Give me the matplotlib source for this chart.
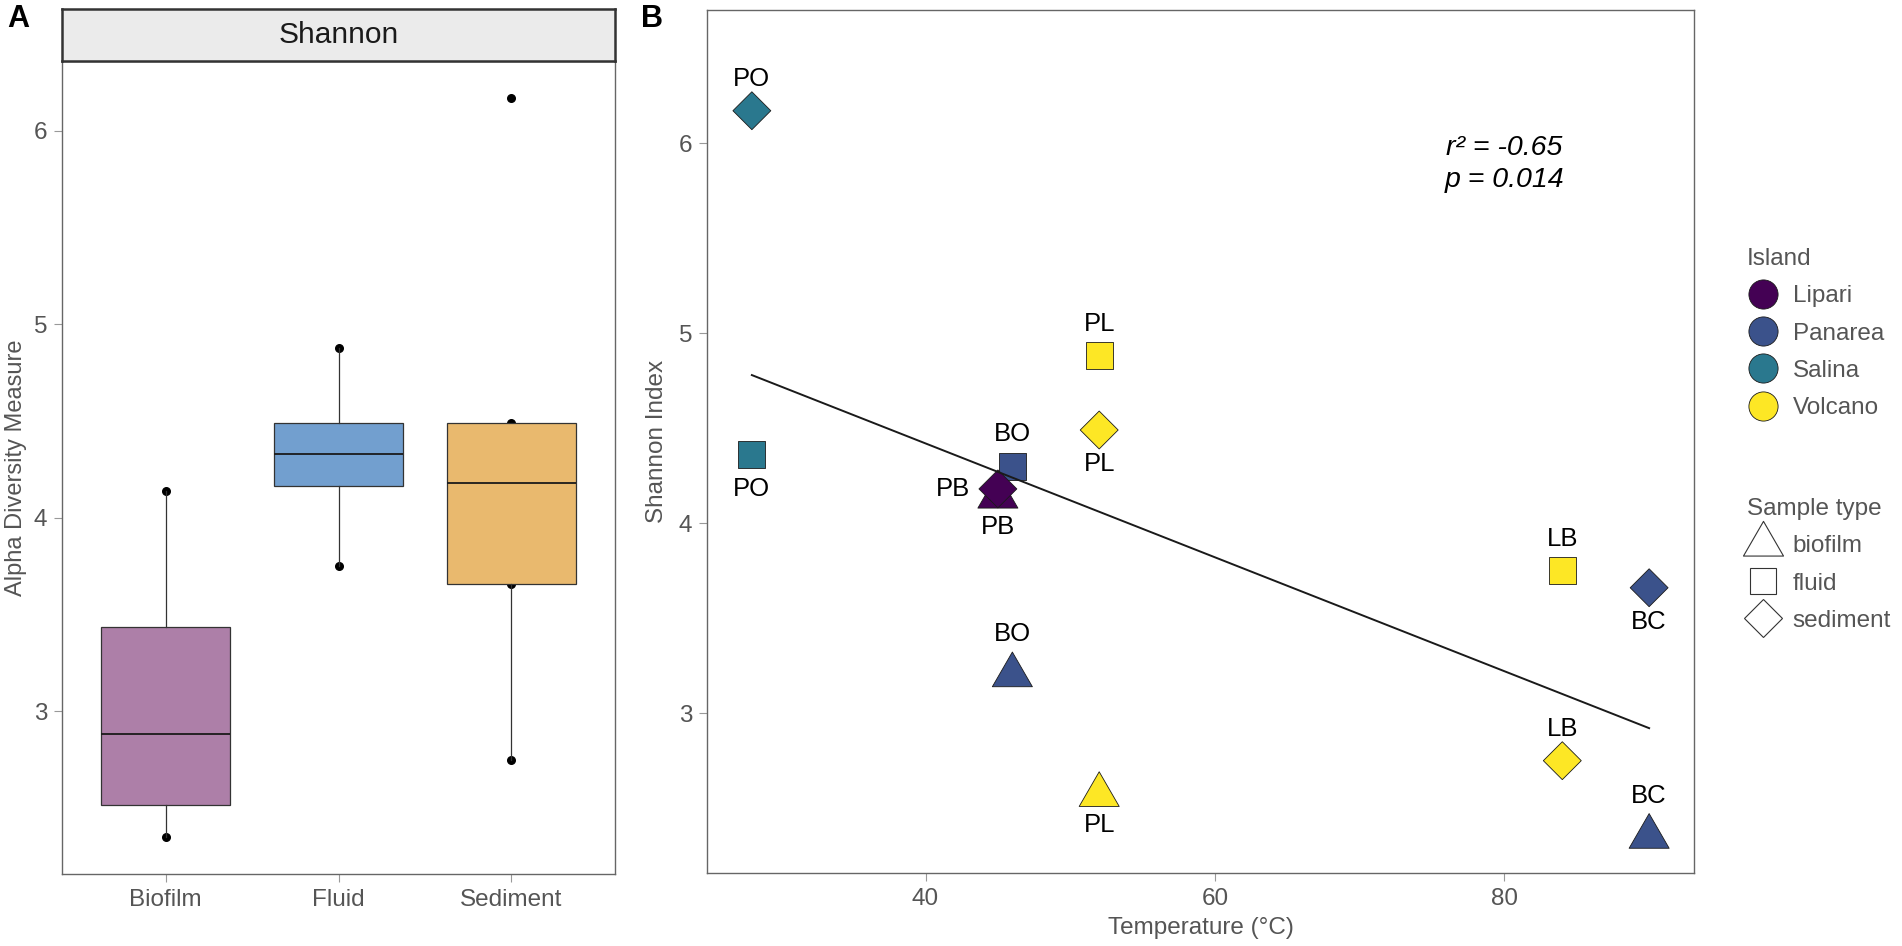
import numpy as np
import matplotlib
matplotlib.use('Agg')
import matplotlib.pyplot as plt
from matplotlib.lines import Line2D
from matplotlib.path import Path

plt.rcParams['font.family'] = ['Liberation Sans', 'DejaVu Sans']

# one row per sample (panel B); panel A boxplots are built from the same values
site = ['PO', 'PO', 'PB', 'PB', 'BO', 'BO', 'PL', 'PL', 'PL', 'LB', 'LB', 'BC', 'BC']
island = ['Salina', 'Salina', 'Lipari', 'Lipari', 'Panarea', 'Panarea',
          'Volcano', 'Volcano', 'Volcano', 'Volcano', 'Volcano', 'Panarea', 'Panarea']
sample_type = ['sediment', 'fluid', 'sediment', 'biofilm', 'fluid', 'biofilm',
               'fluid', 'sediment', 'biofilm', 'fluid', 'sediment', 'sediment', 'biofilm']
temperature = [28, 28, 45, 45, 46, 46, 52, 52, 52, 84, 84, 90, 90]
shannon = [6.17, 4.36, 4.18, 4.14, 4.30, 3.20, 4.88, 4.49, 2.57, 3.75, 2.75, 3.66, 2.35]

types = ['biofilm', 'fluid', 'sediment']
type_names = ['Biofilm', 'Fluid', 'Sediment']
islands = ['Lipari', 'Panarea', 'Salina', 'Volcano']

# label placement around each point (layout only)
label_side = ['above', 'below', 'left', 'below', 'above', 'above',
              'above', 'below', 'below', 'above', 'above', 'below', 'above']

island_colors = {'Lipari': '#440154', 'Panarea': '#3B528B',
                 'Salina': '#2A788E', 'Volcano': '#FDE725'}
box_colors = ['#AD7FA8', '#729FCF', '#E9B96E']

s3 = 1 / np.sqrt(3)
tri = Path([(-1, -s3), (1, -s3), (0, 2 * s3), (-1, -s3)],
           [Path.MOVETO, Path.LINETO, Path.LINETO, Path.CLOSEPOLY])
shape_marker = {'biofilm': tri, 'fluid': 's', 'sediment': 'D'}
shape_size = {'biofilm': 33.3, 'fluid': 19.3, 'sediment': 19.3}

grey_txt = '#555555'
spine_col = '#666666'

W, H = 1902, 946
fig = plt.figure(figsize=(W / 100, H / 100), dpi=100)


def style_axes(ax):
    for sp in ax.spines.values():
        sp.set_color(spine_col)
        sp.set_linewidth(1.0)
    ax.tick_params(labelsize=17.5, labelcolor=grey_txt, color='#999999',
                   length=5.5, width=0.8, pad=5)


# ---------- panel A ----------
axA = fig.add_axes([62 / W, (H - 874) / H, (615 - 62) / W, (874 - 61) / H])
groups = [[v for v, t in zip(shannon, sample_type) if t == k] for k in types]
for i, g in enumerate(groups):
    axA.scatter([i + 1] * len(g), g, s=30, color='black', zorder=1)
bp = axA.boxplot(groups, positions=[1, 2, 3], widths=0.75, patch_artist=True,
                 whis=1.5, showcaps=False, showfliers=False,
                 boxprops=dict(edgecolor='#333333', linewidth=0.9),
                 medianprops=dict(color='#1a1a1a', linewidth=1.3),
                 whiskerprops=dict(color='#333333', linewidth=0.9), zorder=2)
for patch, c in zip(bp['boxes'], box_colors):
    patch.set_facecolor(c)
lo, hi = min(shannon), max(shannon)
pad = 0.05 * (hi - lo)
axA.set_ylim(lo - pad, hi + pad)
axA.set_xlim(0.4, 3.6)
axA.set_xticks([1, 2, 3], type_names)
axA.set_yticks([3, 4, 5, 6])
style_axes(axA)
axA.set_ylabel('Alpha Diversity Measure', fontsize=17, color=grey_txt)
axA.yaxis.set_label_coords(-46 / 553, 0.5)
axA.yaxis.label.set_va('center')

strip = fig.add_axes([62 / W, (H - 61) / H, (615 - 62) / W, 52 / H])
strip.set_facecolor('#EBEBEB')
strip.set_xticks([])
strip.set_yticks([])
for sp in strip.spines.values():
    sp.set_color('#333333')
    sp.set_linewidth(1.8)
strip.text(0.5, 0.5, 'Shannon', ha='center', va='center', fontsize=21.5,
           color='#1a1a1a', transform=strip.transAxes)

# ---------- panel B ----------
axB = fig.add_axes([707 / W, (H - 873) / H, (1694 - 707) / W, (873 - 10) / H])
for k in types:
    idx = [i for i, t in enumerate(sample_type) if t == k]
    axB.scatter([temperature[i] for i in idx], [shannon[i] for i in idx],
                marker=shape_marker[k], s=shape_size[k] ** 2,
                c=[island_colors[island[i]] for i in idx],
                edgecolors='#1a1a1a', linewidths=0.6, zorder=3)

coef = np.polyfit(temperature, shannon, 1)
xs = np.array([min(temperature), max(temperature)])
axB.plot(xs, np.polyval(coef, xs), color='#1a1a1a', lw=1.4, zorder=4)

for i, name in enumerate(site):
    is_tri = sample_type[i] == 'biofilm'
    if label_side[i] == 'above':
        off = (0, 41 if is_tri else 32)
    elif label_side[i] == 'below':
        off = (0, -30 if is_tri else -34)
    else:
        off = (-45, 0)
    axB.annotate(name, (temperature[i], shannon[i]), xytext=off,
                 textcoords='offset pixels', ha='center', va='center',
                 fontsize=18.5, color='black', zorder=5)

axB.text(80, 5.89, 'r² = -0.65\np = 0.014', ha='center', va='center',
         fontsize=20.5, style='italic', linespacing=1.3, color='black')

xlo, xhi = min(temperature), max(temperature)
xpad = 0.05 * (xhi - xlo)
axB.set_xlim(xlo - xpad, xhi + xpad)
axB.set_ylim(lo - pad, 6.70)
axB.set_xticks([40, 60, 80])
axB.set_yticks([3, 4, 5, 6])
style_axes(axB)
axB.set_xlabel('Temperature (°C)', fontsize=17.5, color=grey_txt)
axB.xaxis.set_label_coords(0.5, -55 / 863)
axB.xaxis.label.set_va('center')
axB.set_ylabel('Shannon Index', fontsize=17.5, color=grey_txt)
axB.yaxis.set_label_coords(-50 / 987, 0.5)
axB.yaxis.label.set_va('center')

# ---------- legends ----------
isl_handles = [Line2D([], [], marker='o', ls='none', ms=21,
                      mfc=island_colors[k], mec='#1a1a1a', mew=0.6) for k in islands]
typ_handles = [Line2D([], [], marker=shape_marker[k], ls='none', ms=shape_size[k],
                      mfc='white', mec='#333333', mew=0.8) for k in types]
leg_kw = dict(loc='upper left', frameon=False, fontsize=17.5, title_fontsize=17.5,
              handlelength=1.3, handletextpad=0.58, labelspacing=0.63,
              borderpad=0, borderaxespad=0, alignment='left', labelcolor=grey_txt)
leg1 = fig.legend(isl_handles, islands, title='Island',
                  bbox_to_anchor=(1747 / W, 1 - 248 / H), **leg_kw)
leg2 = fig.legend(typ_handles, types, title='Sample type',
                  bbox_to_anchor=(1747 / W, 1 - 498 / H), **leg_kw)
for lg in (leg1, leg2):
    lg.get_title().set_color(grey_txt)

fig.text(7 / W, 1 - 4 / H, 'A', fontsize=22, fontweight='bold', va='top', ha='left')
fig.text(641 / W, 1 - 4 / H, 'B', fontsize=22, fontweight='bold', va='top', ha='left')

fig.savefig('out.png', dpi=100)
